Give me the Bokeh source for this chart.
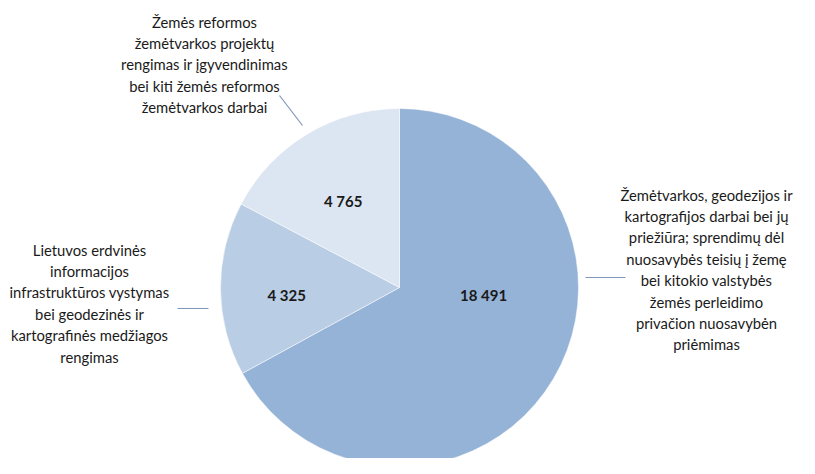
import math
from bokeh.plotting import figure
from bokeh.models import Range1d, ColumnDataSource
from bokeh.core.properties import value
from bokeh.embed import file_html
from bokeh.resources import INLINE

# ---- data (clockwise from 12 o'clock) ----
categories = [
    "Žemėtvarkos, geodezijos ir\nkartografijos darbai bei jų\npriežiūra; sprendimų dėl\nnuosavybės teisių į žemę\nbei kitokio valstybės\nžemės perleidimo\nprivačion nuosavybėn\npriėmimas",
    "Lietuvos erdvinės\ninformacijos\ninfrastruktūros vystymas\nbei geodezinės ir\nkartografinės medžiagos\nrengimas",
    "Žemės reformos\nžemėtvarkos projektų\nrengimas ir įgyvendinimas\nbei kiti žemės reformos\nžemėtvarkos darbai",
]
values = [18491, 4325, 4765]
value_labels = ["18 491", "4 325", "4 765"]
colors = ["#95B3D7", "#B9CDE5", "#DCE6F2"]

W, H = 799, 458
FONT = "Lato"
FS = "14.8px"
LINE_STEP = 21.4
YOFF = 7

p = figure(width=W, height=H, x_range=Range1d(0, W), y_range=Range1d(0, H),
           output_backend="svg", toolbar_location=None, min_border=0)
p.axis.visible = False
p.grid.visible = False
p.outline_line_color = None
p.background_fill_color = "white"
p.border_fill_color = "white"

cx, cy, R = 399, 171, 179
total = sum(values)
cum = [0]
for v in values:
    cum.append(cum[-1] + v)
starts = [math.radians(90 - 360 * cum[i + 1] / total) for i in range(len(values))]
ends = [math.radians(90 - 360 * cum[i] / total) for i in range(len(values))]

src = ColumnDataSource(dict(start=starts, end=ends, color=colors))
p.wedge(x=cx, y=cy, radius=R, start_angle="start", end_angle="end",
        fill_color="color", line_color="white", line_width=0.5, source=src)

# value labels
lx, ly = [], []
label_r = [0.47, 0.63, 0.61]
for i in range(len(values)):
    mid = (starts[i] + ends[i]) / 2
    if i == 0:
        mid = 0.0  # best-fit placement: horizontal to the right
    lx.append(cx + label_r[i] * R * math.cos(mid))
    ly.append(cy + label_r[i] * R * math.sin(mid))
p.text(x=lx, y=ly, text=value_labels, text_align="center", text_baseline="middle",
       y_offset=YOFF, text_font=value(FONT), text_font_size="15px",
       text_font_style="bold", text_color="#1a1a1a")

# category labels (one glyph per line) with leader lines
cat_pos = [(706, 271), (89, 216), (204, 444)]  # centre x, first line y
lead = [((585, 181), (625, 181)), ((177, 150), (208, 150)), ((279, 363), (302, 333))]
for i, txt in enumerate(categories):
    lines = txt.split("\n")
    xs = [cat_pos[i][0]] * len(lines)
    ys = [cat_pos[i][1] - k * LINE_STEP for k in range(len(lines))]
    p.text(x=xs, y=ys, text=lines, text_align="center", text_baseline="middle",
           y_offset=YOFF, text_font=value(FONT), text_font_size=FS,
           text_color="#1a1a1a")
    (x0, y0), (x1, y1) = lead[i]
    p.line(x=[x0, x1], y=[y0, y1], line_color="#7f97b8", line_width=1.2)

open("out.html", "w").write(file_html(p, INLINE))
